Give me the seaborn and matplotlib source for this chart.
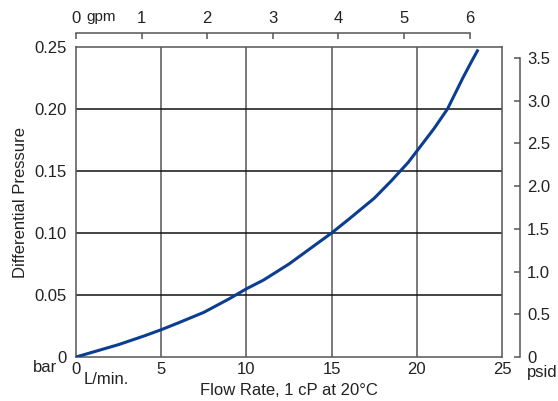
import matplotlib
matplotlib.use("Agg")
import matplotlib.pyplot as plt
import seaborn as sns
import pandas as pd

# Data
flow_lpm = [0, 1, 2.5, 4, 5, 6, 7.5, 9, 10, 11, 12.5, 14, 15, 16, 17.5, 18.5,
            19.5, 20, 21, 21.8, 22.7, 23.2, 23.6]
dp_bar = [0, 0.004, 0.010, 0.017, 0.022, 0.0275, 0.036, 0.047, 0.055, 0.062,
          0.075, 0.090, 0.100, 0.111, 0.128, 0.142, 0.157, 0.166, 0.184, 0.200,
          0.225, 0.238, 0.248]

x_ticks = [0, 5, 10, 15, 20, 25]
y_ticks = [0, 0.05, 0.10, 0.15, 0.20, 0.25]
y_tick_labels = ["0", "0.05", "0.10", "0.15", "0.20", "0.25"]
gpm_ticks = [0, 1, 2, 3, 4, 5, 6]
psid_ticks = [0, 0.5, 1.0, 1.5, 2.0, 2.5, 3.0, 3.5]
psid_tick_labels = ["0", "0.5", "1.0", "1.5", "2.0", "2.5", "3.0", "3.5"]

LPM_PER_GPM = 3.85   # as drawn on the chart
PSI_PER_BAR = 14.5038

sns.set_style("white")
plt.rcParams['font.family'] = ['Liberation Sans', 'DejaVu Sans']

df = pd.DataFrame({"flow": flow_lpm, "dp": dp_bar})

fig = plt.figure(figsize=(5.58, 4.01), dpi=100)
ax = fig.add_axes([76/558, 44/401, (502-76)/558, (357-47)/401])

txt_c = "#222222"
for xv in x_ticks[1:-1]:
    ax.axvline(xv, color="#555555", lw=1.1, zorder=1)
for yv in y_ticks[1:-1]:
    ax.axhline(yv, color="#111111", lw=1.1, zorder=1)

sns.lineplot(data=df, x="flow", y="dp", ax=ax, color="#0b3d91", lw=2.2, zorder=3)
for ln in ax.get_lines():
    ln.set_solid_joinstyle("round")
    ln.set_solid_capstyle("butt")

ax.set_xlim(0, 25)
ax.set_ylim(0, 0.25)
ax.set_xticks(x_ticks)
ax.set_xticklabels([str(v) for v in x_ticks])
ax.set_yticks(y_ticks)
ax.set_yticklabels(y_tick_labels)
ax.tick_params(axis="x", length=0, labelsize=12, colors=txt_c, pad=3.5)
ax.tick_params(axis="y", length=0, labelsize=12, colors=txt_c, pad=7)
ax.set_xlabel("Flow Rate, 1 cP at 20°C", fontsize=12, color=txt_c, labelpad=4.5)
ax.set_ylabel("Differential Pressure", fontsize=12, color=txt_c, labelpad=4)
for s in ax.spines.values():
    s.set_color("#555555")
    s.set_linewidth(1.1)

# top gpm axis
axt = ax.twiny()
axt.set_xlim(0, 25 / LPM_PER_GPM)
axt.set_xticks(gpm_ticks)
axt.set_xticklabels([str(v) for v in gpm_ticks])
for k in ["bottom", "left", "right"]:
    axt.spines[k].set_visible(False)
axt.spines["top"].set_position(("outward", 10))
axt.spines["top"].set_bounds(0, 6)
axt.spines["top"].set_color("#555555")
axt.spines["top"].set_linewidth(1.1)
axt.tick_params(axis="x", direction="in", length=4.5, width=1.1, color="#555555",
                labelsize=12, labelcolor=txt_c, pad=5)
axt.patch.set_visible(False)

# right psid axis
axr = ax.twinx()
axr.set_ylim(0, 0.25 * PSI_PER_BAR)
axr.set_yticks(psid_ticks)
axr.set_yticklabels(psid_tick_labels)
for k in ["top", "left", "bottom"]:
    axr.spines[k].set_visible(False)
axr.spines["right"].set_position(("outward", 13))
axr.spines["right"].set_bounds(0, 3.5)
axr.spines["right"].set_color("#555555")
axr.spines["right"].set_linewidth(1.1)
axr.tick_params(axis="y", direction="in", length=4.5, width=1.1, color="#555555",
                labelsize=12, labelcolor=txt_c, pad=5)
axr.patch.set_visible(False)

# unit annotations
fig.text(45/558, 1 - 367/401, "bar", fontsize=12, color=txt_c, ha="center", va="center")
fig.text(106/558, 1 - 379/401, "L/min.", fontsize=12, color=txt_c, ha="center", va="center")
fig.text(542/558, 1 - 373/401, "psid", fontsize=12, color=txt_c, ha="center", va="center")
fig.text(101/558, 1 - 17/401, "gpm", fontsize=11, color=txt_c, ha="center", va="center")

fig.savefig("out.png", dpi=100)
